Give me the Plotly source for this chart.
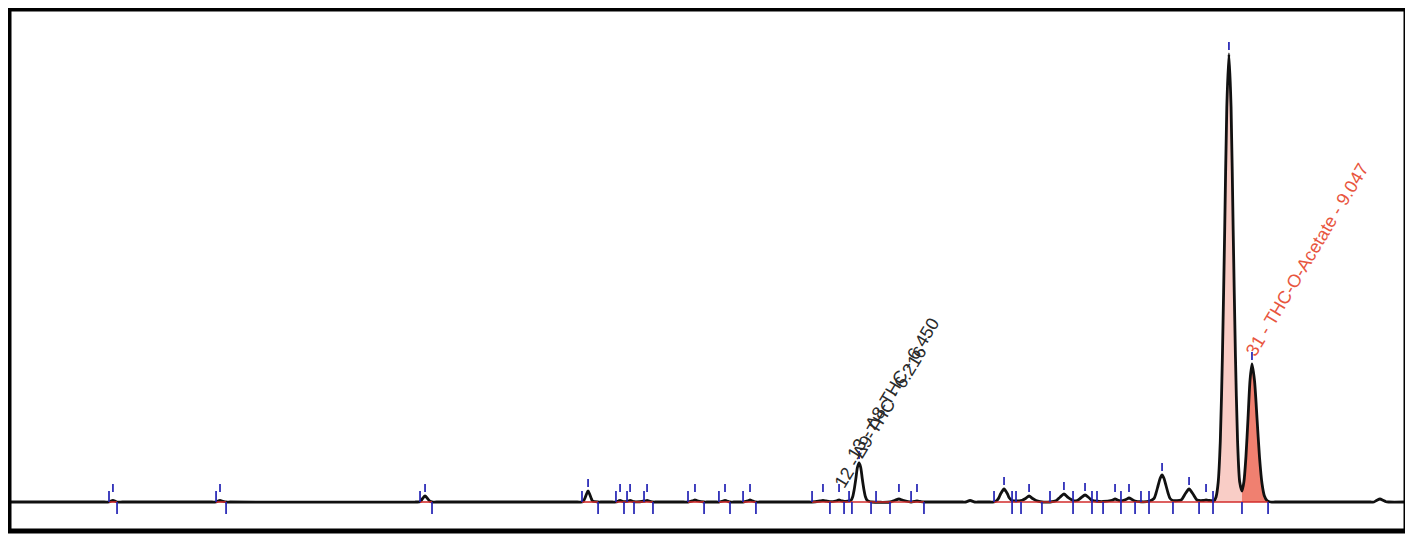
import plotly.graph_objects as go

# ---- chromatogram trace (retention time [min], signal) ----
trace_t = [0.845, 1.480,
    1.511, 1.524, 1.537, 1.550, 1.564, 1.600,
    2.190, 2.217, 2.230, 2.243, 2.256, 2.283, 2.310,
    3.530, 3.562, 3.579, 3.595, 3.611, 3.628, 3.641, 3.670,
    4.600, 4.630, 4.640, 4.650, 4.660, 4.670, 4.680, 4.690, 4.700, 4.736, 4.760,
    4.830, 4.854, 4.870, 4.881, 4.892, 4.907, 4.935, 4.947, 4.959, 4.973, 5.045, 5.059, 5.072, 5.098, 5.120,
    5.300, 5.329, 5.360, 5.375, 5.390, 5.435, 5.460,
    5.510, 5.533, 5.560, 5.573, 5.586, 5.606, 5.630,
    5.670, 5.692, 5.724, 5.738, 5.752, 5.777, 5.800,
    6.120, 6.147, 6.200, 6.219, 6.238, 6.265, 6.310, 6.325, 6.340, 6.358,
    6.404, 6.415, 6.425, 6.436, 6.446, 6.457, 6.468, 6.478, 6.489, 6.499, 6.510, 6.525, 6.540,
    6.661, 6.694, 6.720, 6.746, 6.800, 6.820, 6.839, 6.860, 6.885, 6.910,
    7.140, 7.160, 7.189, 7.220, 7.240,
    7.320, 7.347, 7.367, 7.379, 7.390, 7.413, 7.436, 7.447, 7.466,
    7.492, 7.532, 7.555, 7.578, 7.601, 7.624, 7.663,
    7.716, 7.756, 7.782, 7.808, 7.834, 7.868,
    7.895, 7.921, 7.947, 7.973, 7.993, 8.026, 8.066,
    8.125, 8.145, 8.165, 8.184, 8.217, 8.237, 8.257, 8.277, 8.316,
    8.369, 8.402, 8.415, 8.429, 8.442, 8.455, 8.468, 8.481, 8.495, 8.508, 8.527,
    8.581, 8.607, 8.633, 8.659, 8.685, 8.699,
    8.725, 8.745, 8.765, 8.791,
    8.797, 8.811, 8.825, 8.839, 8.853, 8.868, 8.882, 8.896, 8.910, 8.924, 8.939, 8.953, 8.967, 8.982,
    8.995, 9.008, 9.022, 9.035, 9.048, 9.0645, 9.081, 9.0975, 9.114, 9.130, 9.147, 9.170, 9.200,
    9.500, 9.830, 9.852, 9.872, 9.892, 9.912, 9.932, 9.950, 10.070]
trace_y = [0, 0,
    0, 2, 3, 2, 0, 0,
    0, 0, 2, 3, 2, 0, 0,
    0, 0.5, 7, 12, 7, 1.5, 0, 0,
    0, 0, 2, 8, 16, 22, 16, 8, 2, 0, 0,
    0, 0, 2, 3, 2, 0.5, 2, 3, 2, 0.5, 2, 3, 2, 0, 0,
    0, 0, 2.5, 4, 2.5, 0, 0,
    0, 0, 2, 3, 2, 0, 0,
    0, 0, 2.5, 4, 2.5, 0, 0,
    0, 0, 2, 3, 2, 0.5, 2.5, 4, 2.5, 1,
    3.4, 10.5, 25, 47, 69, 78, 69, 47, 25, 10.5, 3.4, 1, 0,
    0, 3.5, 6, 3.5, 0, 1, 2, 1, 0, 0,
    0, 0, 3, 0, 0,
    0, 0, 3.5, 8.5, 16, 26, 16, 8.5, 3,
    2, 3.5, 7, 12, 7, 3, 0,
    0, 2.5, 9.5, 16, 9.5, 3,
    3, 8.5, 14, 8.5, 3.5, 1.5, 1,
    3.5, 6, 3.5, 2, 5, 8, 5, 2, 0.5,
    1.5, 7, 17.5, 33, 47, 54, 47, 33, 17.5, 7, 3,
    4, 16, 26, 16, 4, 3,
    3, 4, 3, 2,
    2, 10, 39, 121, 291, 543, 790, 896, 790, 543, 291, 121, 40, 22,
    41, 90, 168, 243, 276, 243, 168, 90, 37, 12, 3, 0, 0,
    0, 0, 0, 3.5, 6, 3.5, 0.5, 0, 0]

# ---- integration events ----
start_t = [1.511, 2.217, 3.562, 4.630, 4.854, 4.927, 5.039, 5.329, 5.533, 5.692, 6.147, 6.391,
           6.569, 6.800, 7.347, 7.466, 7.492, 7.716, 7.868, 7.993, 8.026, 8.184, 8.316, 8.369, 8.791]
end_t = [1.564, 2.283, 3.641, 4.736, 4.907, 4.973, 5.098, 5.435, 5.606, 5.777, 6.265, 6.358, 6.410,
         6.536, 6.661, 6.885, 7.466, 7.525, 7.663, 7.868, 7.993, 8.066, 8.184, 8.277, 8.369, 8.527,
         8.699, 8.791, 8.982, 9.154]
apex_t = [1.537, 2.243, 3.595, 4.670, 4.881, 4.947, 5.059, 5.375, 5.573, 5.738, 6.219, 6.325, 6.457,
          6.720, 6.839, 7.413, 7.578, 7.808, 7.947, 8.145, 8.237, 8.455, 8.633, 8.745, 8.896, 9.048]
apex_h = [3, 3, 12, 22, 3, 3, 3, 4, 3, 4, 3, 4, 78, 6, 2, 26, 12, 16, 14, 6, 8, 54, 26, 4, 896, 276]

# integrated regions (red baselines)
region_start = [1.511, 2.217, 3.562, 4.630, 4.854, 5.329, 5.533, 5.692, 6.147, 7.347]
region_end = [1.564, 2.283, 3.641, 4.736, 5.098, 5.435, 5.606, 5.777, 6.885, 9.154]

# filled (identified) peaks: window start, end, colour
fill_start = [8.791, 8.982]
fill_end = [8.982, 9.170]
fill_colors = ["rgba(249,205,198,1)", "rgba(240,128,112,1)"]

# peak labels (text, centre position)
label_texts = ["12 - Δ9-THC - 6.216", "13 - Δ8-THC - 6.450", "31 - THC-O-Acetate - 9.047"]
label_x = [6.600, 6.681, 9.411]
label_y = [170, 226, 484]
label_colors = ["#2a2a2a", "#2a2a2a", "#e8553e"]

X_RANGE = [0.8516, 10.0636]
Y_RANGE = [-58, 986]

fig = go.Figure()

# peak fills
for a, b, c in zip(fill_start, fill_end, fill_colors):
    xs = [t for t in trace_t if a <= t <= b]
    ys = [y for t, y in zip(trace_t, trace_y) if a <= t <= b]
    fig.add_trace(go.Scatter(x=[a] + xs + [b], y=[0] + ys + [0], mode="lines",
                             fill="toself", fillcolor=c, line=dict(width=0),
                             hoverinfo="skip", showlegend=False))

# main signal
fig.add_trace(go.Scatter(x=trace_t, y=trace_y, mode="lines",
                         line=dict(color="#111111", width=2.8, shape="spline", smoothing=0.7),
                         showlegend=False))

# red integration baselines
bx, by = [], []
for a, b in zip(region_start, region_end):
    bx += [a, b, None]
    by += [0, 0, None]
fig.add_trace(go.Scatter(x=bx, y=by, mode="lines", line=dict(color="#d22b2b", width=1.6),
                         hoverinfo="skip", showlegend=False))

# blue event ticks
tx, ty = [], []
for t in start_t:
    tx += [t, t, None]
    ty += [0, 22, None]
for t in end_t:
    tx += [t, t, None]
    ty += [0, -24, None]
for t, h in zip(apex_t, apex_h):
    lo = max(h + 8, 20)
    tx += [t, t, None]
    ty += [lo, lo + 16, None]
fig.add_trace(go.Scatter(x=tx, y=ty, mode="lines", line=dict(color="#2222b4", width=1.7),
                         hoverinfo="skip", showlegend=False))

# labels
for txt, x, y, c in zip(label_texts, label_x, label_y, label_colors):
    fig.add_annotation(x=x, y=y, text=txt, showarrow=False, textangle=-59,
                       xanchor="center", yanchor="middle",
                       font=dict(family="Liberation Sans, Arial", size=18, color=c))

# frame
fig.add_shape(type="rect", xref="paper", yref="paper", x0=0, x1=1, y0=0, y1=1,
              line=dict(color="black", width=5))

fig.update_xaxes(range=X_RANGE, visible=False, showgrid=False, zeroline=False)
fig.update_yaxes(range=Y_RANGE, visible=False, showgrid=False, zeroline=False)
fig.update_layout(width=1405, height=527, margin=dict(l=1, r=7, t=1, b=4, pad=0),
                  paper_bgcolor="white", plot_bgcolor="white", showlegend=False)

fig.write_html("out.html")
